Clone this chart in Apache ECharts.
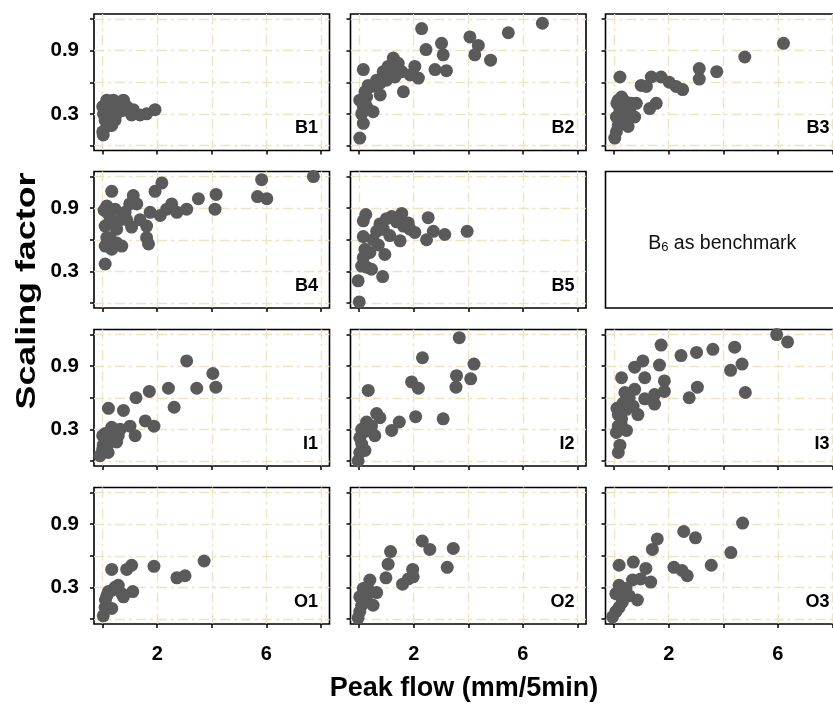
<!DOCTYPE html>
<html><head><meta charset="utf-8">
<script src="https://cdn.jsdelivr.net/npm/echarts@6/dist/echarts.min.js"></script>
<style>html,body{margin:0;padding:0;background:#fff}#c{width:833px;height:708px}</style>
</head><body><div id="c"></div>
<script>
// ---- data ----
const panelNames = ['B1','B2','B3','B4','B5',null,'I1','I2','I3','O1','O2','O3'];
const xTicks = [0,2,4,6,8];
const xTickLabels = [2,6];
const yTicks = [0,0.3,0.6,0.9,1.2];
const yTickLabels = [0.3,0.9];
const xTitle = 'Peak flow (mm/5min)';
const yTitle = 'Scaling factor';

const B1 = [[0.02,0.10],[0.0,0.13],[0.15,0.18],[0.33,0.19],[0.45,0.24],[0.03,0.30],[0.0,0.37],[0.15,0.43],[0.39,0.43],[0.76,0.43],[0.57,0.37],[0.88,0.37],[1.12,0.34],[1.37,0.29],[1.61,0.30],[1.92,0.34],[0.27,0.30],[0.51,0.30],[0.09,0.24],[1.06,0.29],[0.64,0.41],[0.2,0.40],[0.1,0.35],[0.7,0.33],[0.3,0.22]];
const B2 = [[0.02,0.07],[0.15,0.21],[0.09,0.30],[0.02,0.43],[0.21,0.51],[0.15,0.72],[0.33,0.57],[0.51,0.32],[0.27,0.37],[0.64,0.62],[0.77,0.48],[0.88,0.70],[1.06,0.75],[1.25,0.83],[1.43,0.78],[1.56,0.70],[1.62,0.51],[1.31,0.65],[1.0,0.62],[1.87,0.67],[2.04,0.75],[2.17,0.64],[2.29,1.11],[2.45,0.91],[2.78,0.72],[3.02,0.97],[3.08,0.86],[3.2,0.71],[4.06,1.03],[4.37,0.95],[4.24,0.86],[4.82,0.81],[5.47,1.07],[6.72,1.16],[0.45,0.56],[0.76,0.59],[1.12,0.68],[1.37,0.72],[0.15,0.37],[0.27,0.46]];
const B3 = [[0.02,0.07],[0.08,0.13],[0.15,0.19],[0.08,0.27],[0.21,0.34],[0.15,0.43],[0.27,0.46],[0.45,0.41],[0.57,0.34],[0.75,0.27],[0.51,0.18],[0.21,0.65],[0.81,0.40],[0.99,0.57],[1.3,0.35],[1.36,0.65],[1.54,0.40],[1.72,0.65],[2.02,0.60],[2.27,0.56],[2.51,0.53],[1.18,0.56],[3.12,0.73],[3.12,0.63],[3.76,0.70],[4.79,0.84],[6.21,0.97],[0.33,0.30],[0.33,0.24],[0.63,0.40],[0.1,0.4],[0.4,0.22]];
const B4 = [[0.09,0.37],[0.33,1.06],[0.15,0.92],[0.27,0.79],[0.09,0.73],[0.15,0.62],[0.09,0.54],[0.33,0.51],[0.51,0.57],[0.70,0.54],[0.51,0.70],[0.64,0.79],[0.45,0.89],[0.82,0.86],[1.06,0.72],[1.12,1.02],[1.25,0.94],[1.37,0.79],[1.61,0.73],[1.61,0.62],[1.68,0.56],[1.74,0.86],[1.92,1.06],[2.17,1.14],[2.11,0.83],[2.35,0.89],[2.53,0.94],[2.72,0.86],[3.08,0.89],[3.51,0.99],[4.16,1.03],[4.12,0.89],[5.68,1.01],[5.83,1.17],[6.02,0.99],[7.73,1.20],[0.27,0.62],[0.45,0.75],[0.88,0.79],[0.99,0.94],[0.2,0.85],[0.05,0.88]];
const B5 = [[0.0,0.01],[-0.04,0.21],[0.09,0.35],[0.15,0.43],[0.27,0.34],[0.45,0.32],[0.86,0.25],[0.21,0.51],[0.39,0.48],[0.15,0.63],[0.51,0.60],[0.70,0.55],[0.94,0.46],[0.15,0.78],[0.24,0.84],[0.76,0.75],[0.88,0.70],[1.0,0.80],[1.19,0.82],[1.37,0.77],[1.56,0.85],[1.62,0.73],[1.50,0.59],[1.86,0.70],[2.04,0.67],[2.53,0.81],[2.47,0.60],[2.72,0.68],[3.14,0.65],[3.96,0.68],[0.64,0.68],[1.12,0.64],[1.80,0.76]];
const I1 = [[-0.1,0.05],[0.0,0.11],[0.02,0.15],[0.09,0.26],[0.0,0.24],[0.2,0.08],[0.2,0.19],[0.39,0.26],[0.51,0.18],[0.33,0.32],[0.64,0.30],[0.76,0.48],[0.21,0.50],[1.0,0.33],[1.19,0.24],[1.22,0.60],[1.56,0.38],[1.71,0.66],[1.88,0.33],[2.41,0.69],[2.62,0.51],[3.08,0.95],[3.45,0.69],[4.04,0.83],[4.15,0.70],[0.15,0.13],[0.27,0.27],[0.57,0.24]];
const I2 = [[-0.04,0.0],[0.02,0.08],[0.09,0.16],[0.21,0.10],[0.02,0.22],[0.09,0.30],[0.27,0.37],[0.45,0.33],[0.57,0.24],[0.64,0.45],[0.76,0.41],[0.33,0.67],[1.19,0.29],[1.47,0.37],[1.92,0.75],[2.07,0.42],[2.17,0.69],[2.32,0.98],[3.08,0.40],[3.55,0.70],[3.57,0.81],[3.67,1.17],[4.09,0.78],[4.21,0.92],[0.15,0.27],[0.39,0.29]];
const I3 = [[0.15,0.08],[0.21,0.15],[0.08,0.27],[0.15,0.33],[0.45,0.29],[0.27,0.40],[0.15,0.44],[0.45,0.49],[0.33,0.55],[0.69,0.52],[0.87,0.44],[0.39,0.65],[0.75,0.68],[0.27,0.79],[0.75,0.89],[1.05,0.95],[1.12,0.79],[1.12,0.59],[1.48,0.54],[1.48,0.63],[1.66,0.91],[1.84,0.76],[1.84,0.66],[1.72,1.10],[2.45,1.0],[2.75,0.60],[3.02,1.03],[3.05,0.70],[3.62,1.06],[4.27,0.86],[4.42,1.08],[4.69,0.92],[4.81,0.65],[5.96,1.20],[6.36,1.13],[0.1,0.5],[0.25,0.35],[0.55,0.6]];
const O1 = [[0.02,0.03],[0.09,0.11],[0.33,0.10],[0.15,0.22],[0.33,0.27],[0.57,0.32],[0.70,0.24],[0.76,0.21],[1.1,0.26],[0.33,0.47],[0.88,0.47],[1.06,0.51],[1.88,0.50],[2.72,0.39],[3.02,0.41],[3.72,0.55],[0.21,0.26],[0.45,0.30],[0.1,0.18]];
const O2 = [[-0.04,0.01],[0.02,0.07],[0.09,0.13],[0.02,0.21],[0.15,0.29],[0.39,0.37],[0.27,0.21],[0.51,0.13],[0.64,0.25],[0.98,0.39],[1.06,0.52],[1.15,0.64],[1.59,0.33],[1.80,0.38],[1.96,0.47],[1.98,0.40],[2.31,0.74],[2.59,0.66],[3.23,0.49],[3.45,0.67],[0.3,0.3],[0.1,0.2]];
const O3 = [[-0.06,0.02],[0.06,0.07],[0.18,0.11],[0.30,0.16],[0.06,0.24],[0.18,0.32],[0.43,0.29],[0.55,0.22],[0.85,0.18],[0.67,0.37],[0.18,0.51],[0.70,0.54],[0.97,0.38],[1.16,0.48],[1.34,0.35],[1.40,0.66],[1.58,0.76],[2.19,0.49],[2.49,0.46],[2.68,0.41],[2.55,0.83],[2.98,0.77],[3.56,0.51],[4.28,0.63],[4.71,0.91],[0.30,0.24]];
const panelData = {B1,B2,B3,B4,B5,I1,I2,I3,O1,O2,O3};

// ---- layout / style ----
const FONT = '"Liberation Sans", Arial, sans-serif';
const colLeft = [94, 350.5, 605.5];
const rowTop = [14, 171.5, 329.5, 487.5];
const W = 235.5, H = 136.5;
const X_MIN = -0.32, X_MAX = 8.32, Y_MIN = -0.048, Y_MAX = 1.248;
const GRID_LINE = {color: '#EEE4C2', width: 1.4, type: [10, 4, 3, 4]};

const grid = [], xAxis = [], yAxis = [], series = [], graphic = [];
panelNames.forEach((name, i) => {
  const r = Math.floor(i / 3), c = i % 3;
  const left = colLeft[c], top = rowTop[r];
  grid.push({left: left, top: top, width: W, height: H, show: true, outerBoundsMode: 'none',
    borderColor: '#000', borderWidth: 1.6, backgroundColor: 'transparent', containLabel: false});
  const empty = name === null;
  xAxis.push({gridIndex: i, type: 'value', min: X_MIN, max: X_MAX,
    axisLine: {show: false, onZero: false},
    axisTick: {show: !empty, length: 4, customValues: xTicks, lineStyle: {color: '#000', width: 1.5}},
    axisLabel: {show: r === 3 && !empty, customValues: xTickLabels, fontSize: 20, fontWeight: 'bold',
      fontFamily: FONT, color: '#000', margin: 20},
    splitLine: {show: !empty, lineStyle: GRID_LINE}
  });
  yAxis.push({gridIndex: i, type: 'value', min: Y_MIN, max: Y_MAX,
    axisLine: {show: false, onZero: false},
    axisTick: {show: !empty, length: 4, customValues: yTicks, lineStyle: {color: '#000', width: 1.5}},
    axisLabel: {show: c === 0 && !empty, customValues: yTickLabels, fontSize: 20.5, fontWeight: 'bold',
      fontFamily: FONT, color: '#000', margin: 15},
    splitLine: {show: !empty, lineStyle: GRID_LINE}
  });
  if (empty) {
    graphic.push({type: 'text', x: left + W / 2 - 1, y: top + H / 2 + 2,
      style: {text: '{n|B}{s|6}{n| as benchmark}', align: 'center', verticalAlign: 'middle',
        rich: {
          n: {fontSize: 19.5, fontFamily: FONT, fill: '#111', lineHeight: 24, verticalAlign: 'bottom'},
          s: {fontSize: 13, fontFamily: FONT, fill: '#111', lineHeight: 15, verticalAlign: 'bottom'}
        }}});
    return;
  }
  series.push({type: 'scatter', name: name, xAxisIndex: i, yAxisIndex: i, data: panelData[name],
    symbol: 'circle', symbolSize: 13, itemStyle: {color: '#5a5a5a', opacity: 1}, silent: true});
  graphic.push({type: 'text', x: left + W - 11.5, y: top + H - 22,
    style: {text: name, align: 'right', verticalAlign: 'middle', fontSize: 18, fontWeight: 'bold',
      fontFamily: FONT, fill: '#000'}});
});

graphic.push({type: 'text', x: 464, y: 689,
  style: {text: xTitle, align: 'center', verticalAlign: 'middle', fontSize: 27, fontWeight: 'bold',
    fontFamily: FONT, fill: '#000'}});
graphic.push({type: 'text', x: 27, y: 291, rotation: Math.PI / 2, scaleX: 1.28,
  style: {text: yTitle, align: 'center', verticalAlign: 'middle', fontSize: 28, fontWeight: 'bold',
    fontFamily: FONT, fill: '#000'}});

const chart = echarts.init(document.getElementById('c'), null, {renderer: 'canvas'});
chart.setOption({animation: false, backgroundColor: '#fff', grid, xAxis, yAxis, series, graphic});
</script></body></html>
